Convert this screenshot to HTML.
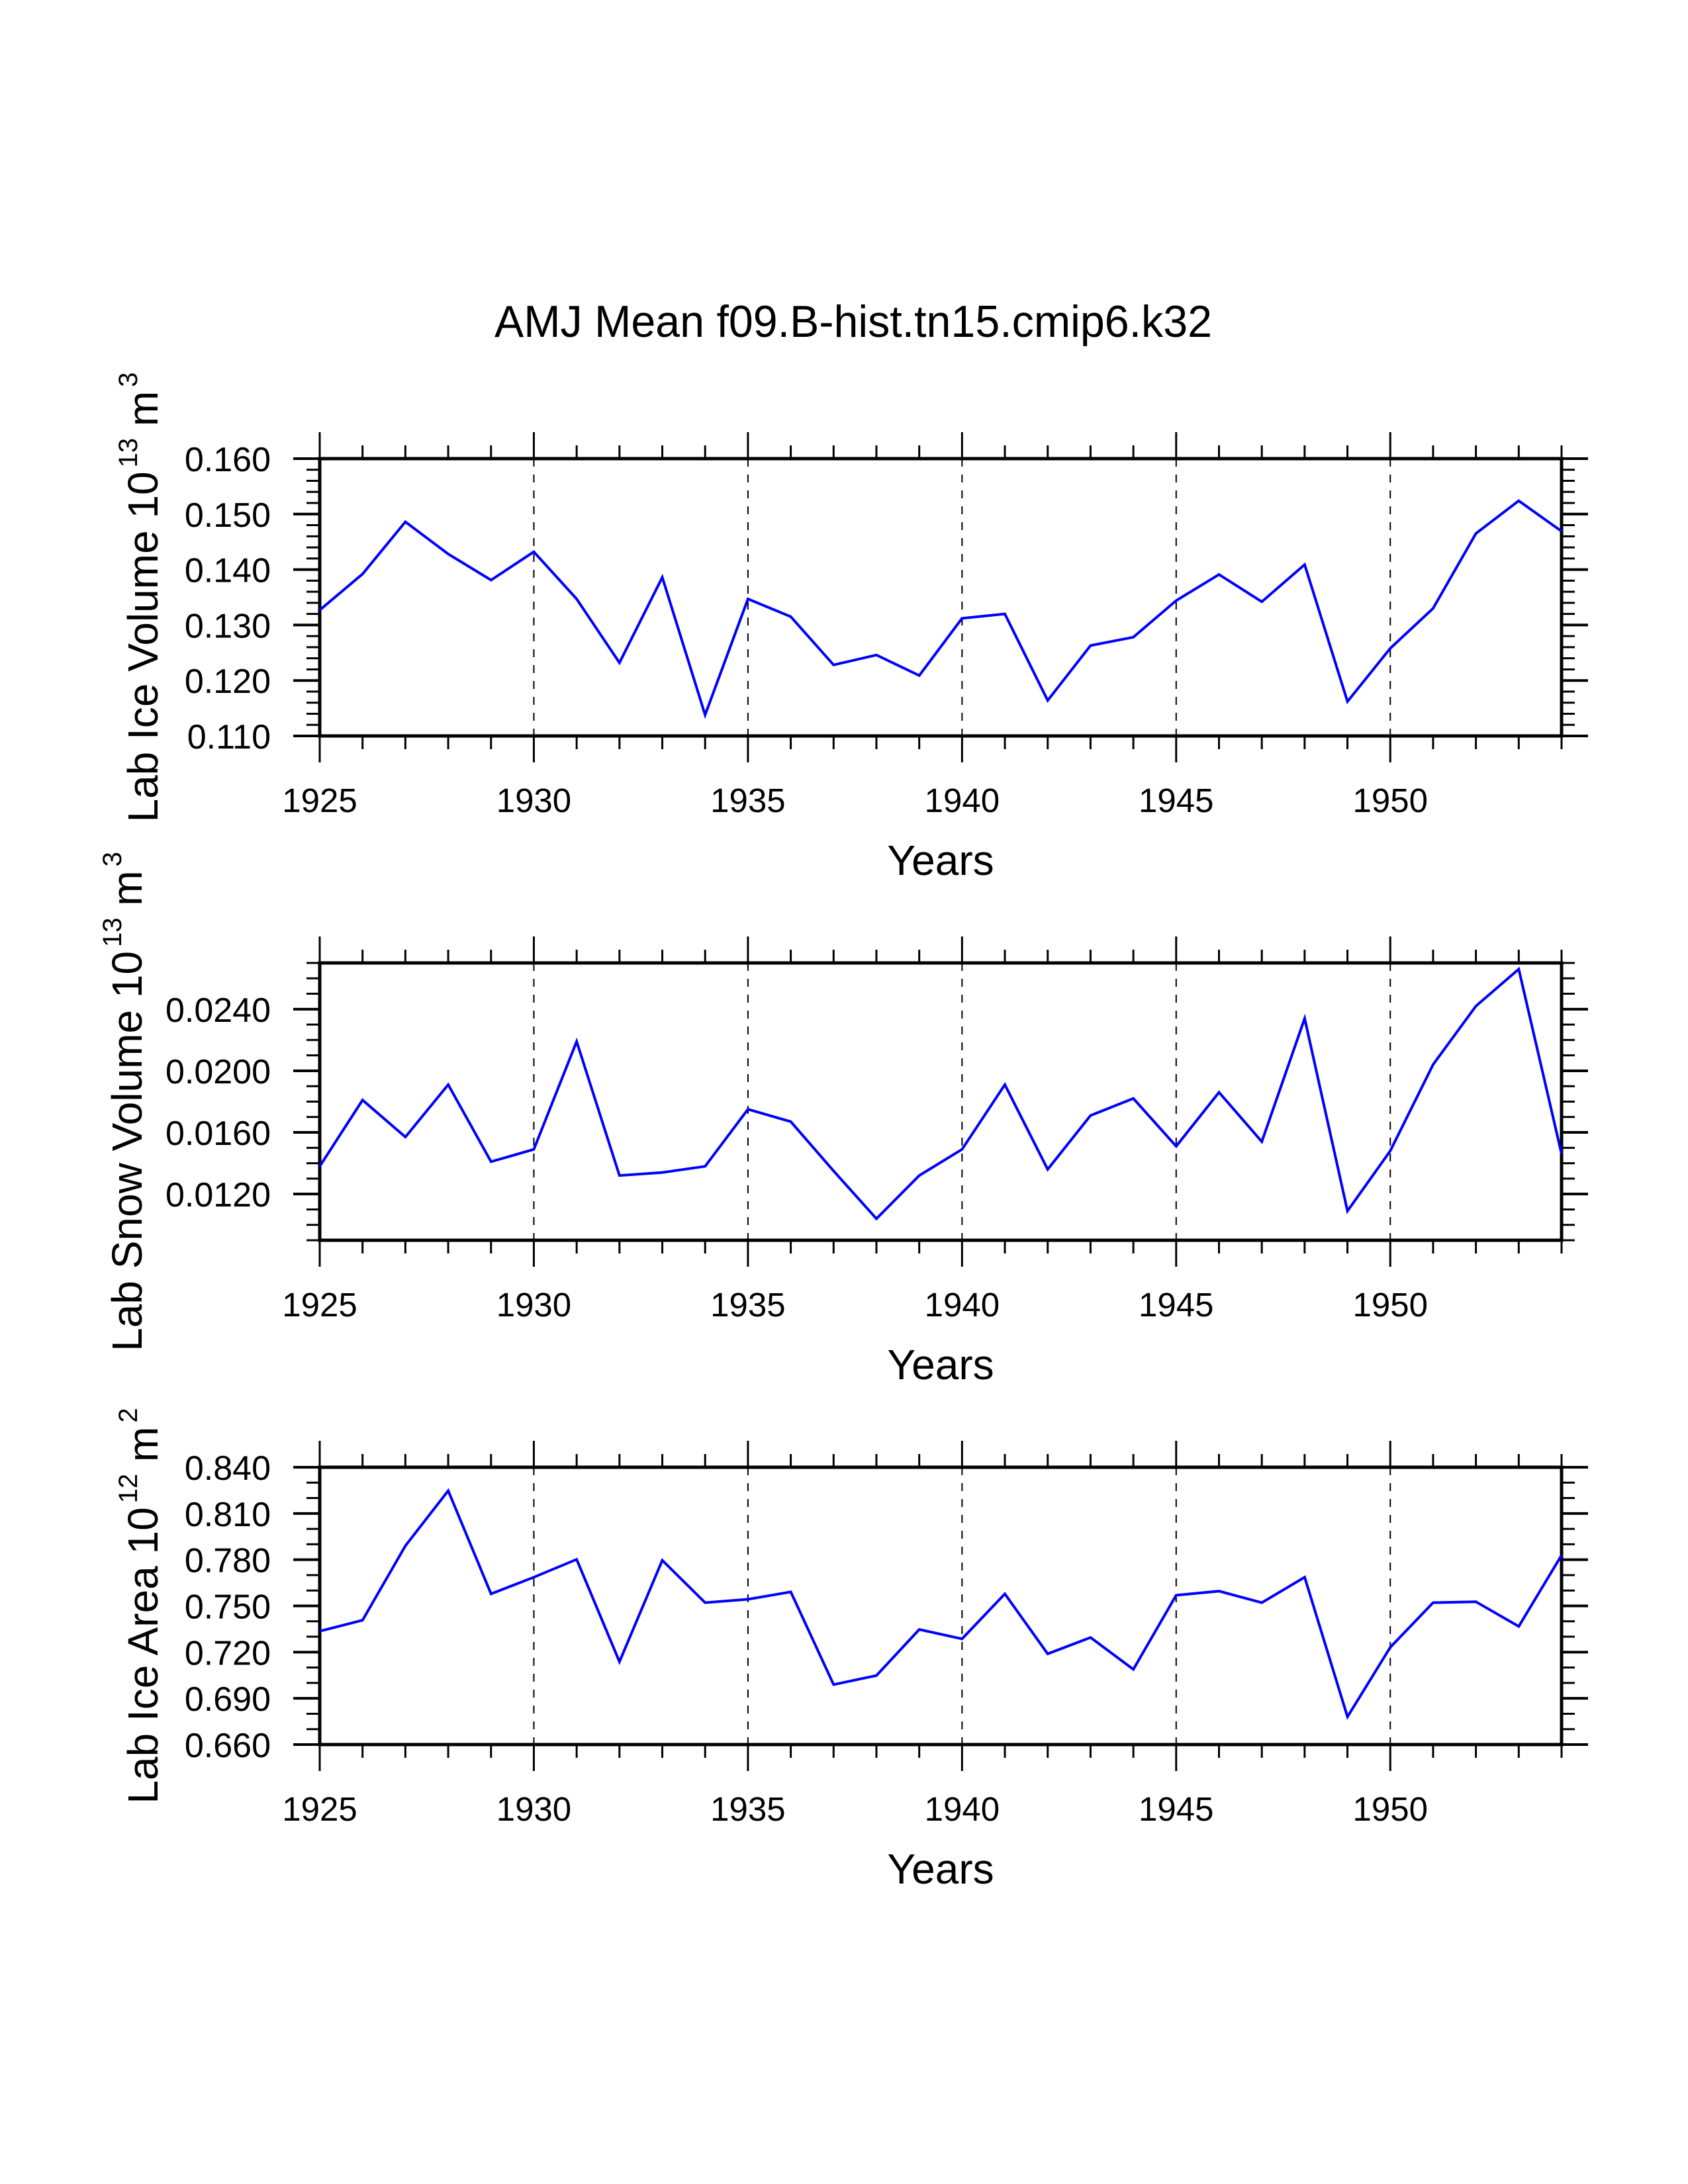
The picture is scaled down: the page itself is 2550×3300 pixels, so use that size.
<!DOCTYPE html>
<html><head><meta charset="utf-8"><style>
html,body{margin:0;padding:0;background:#fff;}
svg{display:block;font-family:"Liberation Sans",Arial,sans-serif;}
</style></head>
<body>
<svg id="chart" width="2550" height="3300" viewBox="0 0 2550 3300" xmlns="http://www.w3.org/2000/svg">
<rect width="2550" height="3300" fill="#fff"/>
<text x="1289" y="509" font-size="68" text-anchor="middle" textLength="1084" lengthAdjust="spacingAndGlyphs">AMJ Mean f09.B-hist.tn15.cmip6.k32</text>
<g id="panels"></g>
</svg>
<script>
const years = [1925,1926,1927,1928,1929,1930,1931,1932,1933,1934,1935,1936,1937,1938,1939,1940,1941,1942,1943,1944,1945,1946,1947,1948,1949,1950,1951,1952,1953,1954];
const iceVolume = [0.1327,0.1392,0.1486,0.1428,0.1381,0.1432,0.1347,0.1232,0.1386,0.1138,0.1347,0.1315,0.1228,0.1246,0.1209,0.1312,0.1320,0.1164,0.1263,0.1278,0.1344,0.1391,0.1342,0.1409,0.1162,0.1258,0.1330,0.1465,0.1524,0.1469];
const snowVolume = [0.0138,0.0181,0.0157,0.0191,0.0141,0.0149,0.0219,0.0132,0.0134,0.0138,0.0175,0.0167,0.0135,0.0104,0.0132,0.0149,0.0191,0.0136,0.0171,0.0182,0.0151,0.0186,0.0154,0.0234,0.0109,0.0148,0.0204,0.0242,0.0266,0.0146];
const iceArea = [0.7336,0.7407,0.7890,0.8248,0.7578,0.7686,0.7802,0.7138,0.7796,0.7521,0.7543,0.7591,0.6989,0.7048,0.7347,0.7286,0.7578,0.7189,0.7295,0.7088,0.7569,0.7596,0.7521,0.7686,0.6780,0.7231,0.7521,0.7527,0.7367,0.7829];
const xTickLabels = ["1925","1930","1935","1940","1945","1950"];
const iceVolTicks = ["0.110","0.120","0.130","0.140","0.150","0.160"];
const snowVolTicks = ["0.0120","0.0160","0.0200","0.0240"];
const iceAreaTicks = ["0.660","0.690","0.720","0.750","0.780","0.810","0.840"];

const NS = "http://www.w3.org/2000/svg";
const root = document.getElementById('panels');
function mk(tag, attrs, parent){ const e=document.createElementNS(NS,tag); for(const k in attrs) e.setAttribute(k,attrs[k]); (parent||root).appendChild(e); return e; }

const X0=483, X1=2359, H=419;
const xMin=1925, xMax=1954;
function xs(v){ return X0 + (v-xMin)/(xMax-xMin)*(X1-X0); }

function panel(cfg){
  const T=cfg.top, B=T+H;
  const g=mk('g',{});
  
  
  const ys=v=> B - (v-cfg.yMin)/(cfg.yMax-cfg.yMin)*H;
  for(let yr=1930; yr<=1950; yr+=5){
    const l=mk('line',{x1:xs(yr),x2:xs(yr),y1:T,y2:B,stroke:'#000','stroke-width':2,'stroke-dasharray':'12,12'},g);
    
    
  }
  for(let yr=xMin; yr<=xMax; yr++){
    const major=(yr%5===0);
    const len=major?40:20;
    mk('line',{x1:xs(yr),x2:xs(yr),y1:T,y2:T-len,stroke:'#000','stroke-width':3},g);
    mk('line',{x1:xs(yr),x2:xs(yr),y1:B,y2:B+len,stroke:'#000','stroke-width':3},g);
  }
  xTickLabels.forEach(s=>{
    const t=mk('text',{x:xs(+s),y:B+115,'font-size':51,'text-anchor':'middle'},g);
    t.textContent=s;
    
    
  });
  const nMin=Math.round((cfg.yMax-cfg.yMin)/cfg.minor);
  for(let i=0;i<=nMin;i++){
    const v=cfg.yMin+i*cfg.minor;
    mk('line',{x1:X0,x2:X0-20,y1:ys(v),y2:ys(v),stroke:'#000','stroke-width':3},g);
    mk('line',{x1:X1,x2:X1+20,y1:ys(v),y2:ys(v),stroke:'#000','stroke-width':3},g);
  }
  cfg.ticks.forEach(s=>{
    const v=+s;
    mk('line',{x1:X0,x2:X0-40,y1:ys(v),y2:ys(v),stroke:'#000','stroke-width':4},g);
    mk('line',{x1:X1,x2:X1+40,y1:ys(v),y2:ys(v),stroke:'#000','stroke-width':4},g);
    const t=mk('text',{x:X0-74,y:ys(v)+19,'font-size':52,'text-anchor':'end'},g);
    t.textContent=s;
    
    
  });
  const fr=mk('rect',{x:X0,y:T,width:X1-X0,height:H,fill:'none',stroke:'#000','stroke-width':5},g);
  
  
  const pts=years.map((yr,i)=>xs(yr).toFixed(1)+','+ys(cfg.data[i]).toFixed(1)).join(' ');
  const pl=mk('polyline',{points:pts,fill:'none',stroke:'#0000ff','stroke-width':4,'stroke-linejoin':'miter'},g);
  
  
  const xt=mk('text',{x:(X0+X1)/2,y:B+210,'font-size':64,'text-anchor':'middle'},g);
  xt.textContent='Years';
  
  
  const cy=T+H/2;
  const yt=mk('text',{x:0,y:0,'font-size':64,'text-anchor':'middle',transform:'translate('+cfg.yx+','+cy+') rotate(-90)'},g);
  
  
  const a=mk('tspan',{},yt); a.textContent=cfg.label+' 10';
  const b=mk('tspan',{'font-size':40,dy:-31,dx:6},yt); b.textContent=cfg.exp;
  const c=mk('tspan',{dy:31},yt); c.textContent=' m';
  const d=mk('tspan',{'font-size':40,dy:-31,dx:6},yt); d.textContent=cfg.unitExp;
}

panel({name:'ice-volume-panel',top:693,yMin:0.110,yMax:0.160,minor:0.002,ticks:iceVolTicks,data:iceVolume,label:'Lab Ice Volume',exp:'13',unitExp:'3',yx:238});
panel({name:'snow-volume-panel',top:1455,yMin:0.009,yMax:0.027,minor:0.001,ticks:snowVolTicks,data:snowVolume,label:'Lab Snow Volume',exp:'13',unitExp:'3',yx:214});
panel({name:'ice-area-panel',top:2217,yMin:0.660,yMax:0.840,minor:0.010,ticks:iceAreaTicks,data:iceArea,label:'Lab Ice Area',exp:'12',unitExp:'2',yx:238});
</script>
</body></html>
